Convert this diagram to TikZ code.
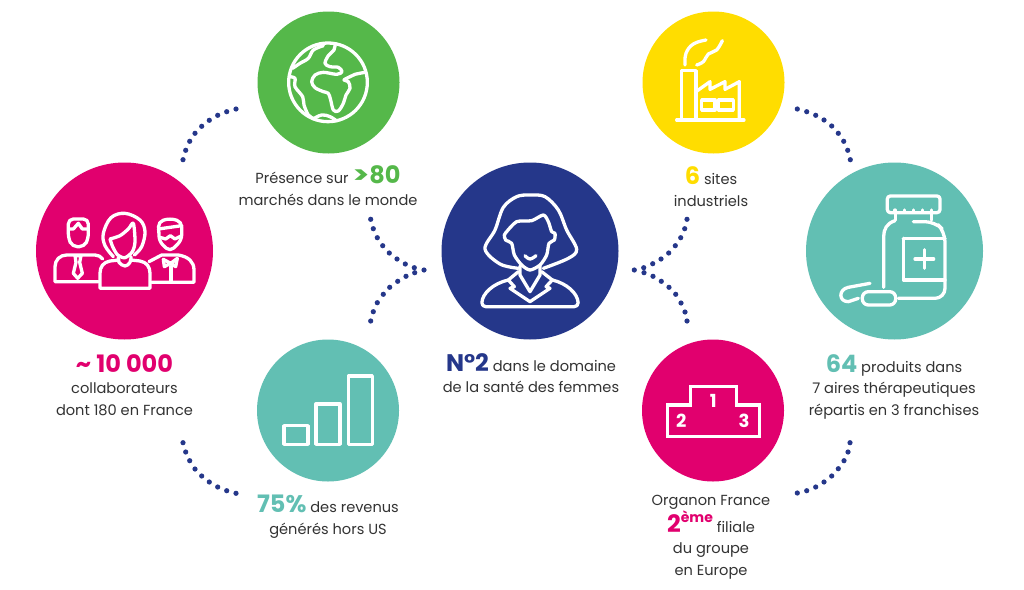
\documentclass[tikz,border=0pt]{standalone}
\usepackage{fontspec}
\setmainfont{Poppins}
\definecolor{cgreen}{HTML}{55B84A}
\definecolor{cpink}{HTML}{E1006E}
\definecolor{cnavy}{HTML}{25378A}
\definecolor{cyellow}{HTML}{FFDD00}
\definecolor{cteal}{HTML}{62BFB3}
\definecolor{ctext}{HTML}{333333}
\newcommand{\bignum}[2]{{\fontsize{24}{21.7}\selectfont\bfseries\color{#1}#2}}
\begin{document}
\begin{tikzpicture}[x=1pt,y=-1pt,
  disc/.style={circle,inner sep=0pt,minimum size=#1},
  lab/.style={align=center,text=ctext,font=\fontsize{14.6}{21.7}\selectfont,inner sep=0pt,anchor=north},
  ico/.style={draw=white,line width=3.3pt,line cap=round,line join=round},
  podnum/.style={text=white,font=\fontsize{18}{18}\selectfont\bfseries,inner sep=0pt}]
\useasboundingbox (0,0) rectangle (1024,589);
\fill[white] (0,0) rectangle (1024,589);
% discs
\node[disc=142pt,fill=cgreen] (globe) at (328.5,82.5) {};
\node[disc=177pt,fill=cpink] (people) at (124.5,251) {};
\node[disc=177pt,fill=cnavy] (woman) at (530,251) {};
\node[disc=142pt,fill=cyellow] (factory) at (713.5,82.5) {};
\node[disc=177pt,fill=cteal] (bottle) at (894.5,251) {};
\node[disc=142pt,fill=cpink] (podium) at (713,410.5) {};
\node[disc=142pt,fill=cteal] (bars) at (328,410.5) {};
% dotted arcs
\foreach \p in {(236,109),(226.7,111.7),(217.7,115.3),(209.3,120.3),(201.7,126.3),(195,133.3),(189.7,141.3),(185.7,150.3),(183,159.7),
 (797.3,109),(806.7,111.7),(815.7,115.3),(824,120),(831.7,126),(838.3,133.3),(843.7,141.3),(847.7,150.3),(850.3,159.7),
 (850,442.7),(848,452),(844,460.7),(838.3,468.7),(831.7,476),(824,482),(815.7,487),(806.7,490.7),(797.3,493),
 (183,442.7),(185.7,452),(189.7,460.7),(195,469),(201.7,476),(209.3,482),(217.7,487),(226.7,490.7),(236,493.3),
 (370.7,219.3),(373.3,228.7),(377.3,237.7),(382.7,245.7),(389.3,253),(397,259),(405.3,264),(414.3,267.7),(424,270),
 (414.7,272.7),(406,276.3),(397.7,281.3),(389.7,287.3),(383.3,294.3),(377.3,302.7),(373.3,311.7),(370.7,321),
 (687,219.3),(684.7,228.7),(680.7,237.7),(675.3,245.7),(668.7,253),(661,259),(652.7,263.7),(643.7,267.7),(634.3,270),
 (644,272.7),(653,276.3),(661.3,281.3),(669,287.3),(675.7,294.3),(681,303),(685,312),(687,321)}
  \fill[cnavy] \p circle[radius=2.6pt];
% globe icon
\begin{scope}[shift={(280,35)},scale=1/3]
 \draw[ico] (144,142) ellipse[x radius=118,y radius=118];
 \draw[ico] plot[smooth,tension=.55] coordinates {(165,28)(162,45)(145,62)(135,85)(150,95)(175,97)(186,110)(170,118)(130,112)(105,120)(95,140)(105,158)(130,170)(145,175)(152,195)(160,225)(175,228)(190,205)(198,180)(210,160)(205,140)(192,135)(210,125)(225,118)(255,112)};
 \draw[ico] plot[smooth,tension=.55] coordinates {(130,32)(100,45)(85,70)(60,85)(38,100)};
 \draw[ico] plot[smooth,tension=.55] coordinates {(28,125)(45,130)(45,155)(68,185)(72,210)(85,240)(100,250)};
 \draw[ico] plot[smooth,tension=.7] coordinates {(100,252)(125,240)(150,245)(170,258)};
\end{scope}
% people icon
\begin{scope}[shift={(45,205)},scale=1/3]
 \draw[ico,rounded corners=5pt] (70,42) -- (130,42) -- (130,100) -- (118,125) -- (82,125) -- (70,100) -- cycle;
 \draw[ico] (72,72) -- (85,72) -- (100,55) -- (112,72) -- (128,72);
 \draw[ico] (160,230) -- (30,230) -- (30,185) .. controls (30,165) and (45,150) .. (65,150) -- (150,150) .. controls (160,150) and (168,155) .. (173,162);
 \draw[ico] (90,152) -- (108,152) -- (104,172) -- (112,205) -- (98,220) -- (85,205) -- (93,172) -- cycle;
 \draw[ico] plot[smooth,tension=.6] coordinates {(205,155)(180,122)(175,85)(198,38)(240,25)(285,45)(300,80)(290,125)(268,150)};
 \draw[ico] plot[smooth,tension=.5] coordinates {(195,102)(225,92)(250,72)(265,55)(270,110)(262,140)(240,158)(218,150)(203,125)(195,102)};
 \draw[ico] plot[smooth,tension=.7] coordinates {(220,158)(222,172)(240,183)(255,172)(258,155)};
 \draw[ico] (222,165) -- (195,168) .. controls (175,172) and (165,185) .. (165,205) -- (165,250) -- (315,250) -- (315,205) .. controls (315,185) and (305,172) .. (285,168) -- (258,165);
 \draw[ico,rounded corners=5pt] (340,50) -- (375,40) -- (410,50) -- (410,105) -- (375,140) -- (343,110) -- cycle;
 \draw[ico] (340,72) -- (410,62);
 \draw[ico] (345,97) -- (362,102) -- (376,92) -- (390,102) -- (410,92);
 \draw[ico] (312,170) -- (350,150) -- (400,150) .. controls (430,155) and (447,170) .. (447,195) -- (447,232) -- (320,232);
 \draw[ico] (355,163) -- (377,175) -- (397,160) -- (392,185) -- (377,175) -- (358,185) -- cycle;
 \draw[ico] (378,185) -- (378,232);
\end{scope}
% woman icon
\begin{scope}[shift={(475,190)},scale=1/3]
 \draw[ico] plot[smooth,tension=.55] coordinates {(130,235)(75,222)(30,177)(60,120)(85,52)(125,20)(165,15)(210,20)(250,60)(275,120)(305,178)(280,205)(205,235)};
 \draw[ico] plot[smooth,tension=.45] coordinates {(95,125)(125,95)(170,92)(205,75)(220,95)(230,125)(240,130)(238,150)(222,160)(215,195)(195,225)(165,240)(140,225)(118,195)(110,160)(92,150)(88,135)(95,125)};
 \draw[ico] plot[smooth,tension=.7] coordinates {(150,197)(165,207)(183,197)};
 \draw[ico] (135,228) -- (135,255) -- (165,305) -- (195,255) -- (195,228);
 \draw[ico] (130,245) -- (100,270) -- (118,290) -- (105,295) -- (165,335) -- (225,295) -- (213,290) -- (232,270) -- (200,245);
 \draw[ico,rounded corners=4pt] (100,270) .. controls (55,280) and (22,310) .. (20,350) -- (310,350) .. controls (308,310) and (275,280) .. (232,270);
\end{scope}
% factory icon
\begin{scope}[shift={(670,30)},scale=1/3]
 \draw[ico] (35,270) -- (35,122) -- (78,122) -- (78,270);
 \draw[ico] (20,270) -- (222,270);
 \draw[ico] plot[smooth,tension=.7] coordinates {(45,105)(48,70)(70,42)(108,30)};
 \draw[ico] plot[smooth,tension=.6] coordinates {(80,105)(100,95)(115,72)(140,60)(157,32)};
 \draw[ico] (78,185) -- (120,155) -- (120,178) -- (165,155) -- (165,178) -- (208,155) -- (208,270);
 \draw[ico] (95,210) rectangle (135,240);
 \draw[ico] (145,210) rectangle (190,240);
\end{scope}
% bottle icon
\begin{scope}[shift={(835,190)},scale=1/3]
 \draw[ico,rounded corners=3pt] (157,18) rectangle (315,68);
 \foreach \tx in {180,208,235,262,290} \draw[ico] (\tx,60) -- (\tx,66);
 \draw[ico] (182,68) -- (182,90);
 \draw[ico] (290,68) -- (290,90);
 \draw[ico,rounded corners=10pt] (235,95) -- (300,95) -- (330,125) -- (330,325) -- (190,325);
 \draw[ico] (180,92) .. controls (155,100) and (146,118) .. (146,140) -- (146,292);
 \draw[ico] (205,145) -- (330,145);
 \draw[ico] (330,270) -- (205,270) -- (205,145);
 \draw[ico] (240,207) -- (296,207);
 \draw[ico] (268,179) -- (268,235);
 \draw[ico,rounded corners=6pt] (82,305) rectangle (182,345);
 \draw[ico] (105,280) -- (40,292) .. controls (10,298) and (10,335) .. (40,335) -- (70,325);
\end{scope}
% podium icon
\begin{scope}[shift={(620,330)},scale=1/3]
 \draw[ico,line cap=butt,line join=miter] (142,320) -- (142,225) -- (212,225) -- (212,170) -- (350,170) -- (350,225) -- (418,225) -- (418,320) -- cycle;
 \node[podnum] (first) at (280,212) {1};
 \node[podnum] (second) at (184,273) {2};
 \node[podnum] (third) at (372,273) {3};
\end{scope}
% bars icon
\begin{scope}[shift={(170,330)},scale=1/3]
 \draw[ico] (342,287) rectangle (414,343);
 \draw[ico] (438,222) rectangle (510,343);
 \draw[ico] (535,138) rectangle (607,343);
\end{scope}
% labels
\node[lab] (tglobe) at (328,165.5) {Présence sur \bignum{cgreen}{\scalebox{1.3}[1]{>}80}\\marchés dans le monde};
\node[lab] (tpeople) at (124.5,354) {\bignum{cpink}{\textasciitilde{} 10 000}\\collaborateurs\\dont 180 en France};
\node[lab] (twoman) at (531,353) {\bignum{cnavy}{N°2} dans le domaine\\de la santé des femmes};
\node[lab] (tfactory) at (711,166.5) {\bignum{cyellow}{6} sites\\industriels};
\node[lab] (tbottle) at (894,354) {\bignum{cteal}{64} produits dans\\7 aires thérapeutiques\\répartis en 3 franchises};
\node[lab] (tpodium) at (711,495) {Organon France\\\bignum{cpink}{2\raisebox{.75ex}{\fontsize{14}{14}\selectfont ème}} filiale\\du groupe\\en Europe};
\node[lab] (tbars) at (328,495) {\bignum{cteal}{75\%} des revenus\\générés hors US};
\end{tikzpicture}
\end{document}
